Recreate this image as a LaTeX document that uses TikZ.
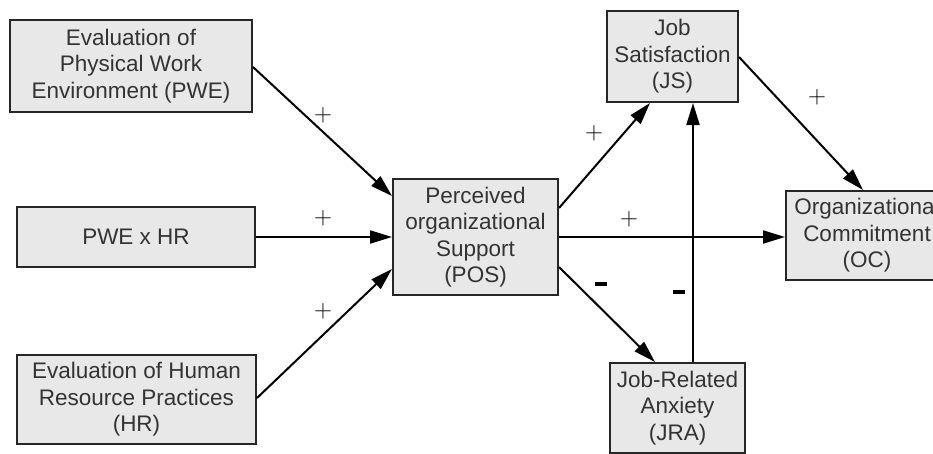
\documentclass[tikz,border=0pt]{standalone}
\usepackage{fontspec}
\setmainfont{Liberation Sans}
\usetikzlibrary{arrows.meta}
\begin{document}
\begin{tikzpicture}[x=1pt,y=-1pt,
  box/.style={draw=black!85, line width=2pt, fill=black!9, inner sep=0pt,
    align=center, font=\fontsize{22.5}{26.5}\selectfont, text=black!80},
  link/.style={line width=2pt, -{Triangle[length=22pt,width=13pt]}},
  plus/.style={font=\fontsize{30}{30}\selectfont, inner sep=0pt},
  minus/.style={fill=black, inner sep=0pt, minimum width=12pt, minimum height=4.5pt}]
\useasboundingbox (0,0) rectangle (933,453);
\begin{scope}
\clip (0,0) rectangle (933,453);
% variables
\node[box, minimum width=242pt, minimum height=92pt] (pwe) at (131,66)
  {Evaluation of\\Physical Work\\Environment (PWE)};
\node[box, minimum width=238pt, minimum height=60pt] (int) at (136,237) {PWE x HR};
\node[box, minimum width=239pt, minimum height=89pt] (hr) at (136.5,399.5)
  {Evaluation of Human\\Resource Practices\\(HR)};
\node[box, minimum width=165pt, minimum height=116pt] (pos) at (475.5,237)
  {Perceived\\organizational\\Support\\(POS)};
\node[box, minimum width=131pt, minimum height=91pt] (js) at (672.5,56.5)
  {Job\\Satisfaction\\(JS)};
\node[box, minimum width=162pt, minimum height=89pt] (oc) at (867,235.5)
  {Organizational\\Commitment\\(OC)};
\node[box, minimum width=135pt, minimum height=90pt] (jra) at (677.5,408)
  {Job-Related\\Anxiety\\(JRA)};
\end{scope}
% paths
\draw[link] (pwe.east |- 0,67) -- (pos.west |- 0,196);
\draw[link] (int.east) -- (pos.west |- int.east);
\draw[link] (hr.east |- 0,398) -- (pos.west |- 0,269);
\draw[link] (pos.east |- 0,208) -- (js.south west -| 650,0);
\draw[link] (js.east |- 0,57) -- (oc.north west -| 863,0);
\draw[link] (pos.east |- 0,237) -- (oc.west |- 0,237);
\draw[link] (pos.east |- 0,267) -- (jra.north west -| 655,0);
\draw[link] (jra.north -| 693,0) -- (js.south -| 693,0);
% signs
\node[plus] (s1) at (323,115) {$+$};
\node[plus] (s2) at (323,218) {$+$};
\node[plus] (s3) at (323,311) {$+$};
\node[plus] (s4) at (594,133) {$+$};
\node[plus] (s5) at (817,97) {$+$};
\node[plus] (s6) at (629,219) {$+$};
\node[minus] (m1) at (601,284) {};
\node[minus] (m2) at (679,292) {};
\end{tikzpicture}
\end{document}
